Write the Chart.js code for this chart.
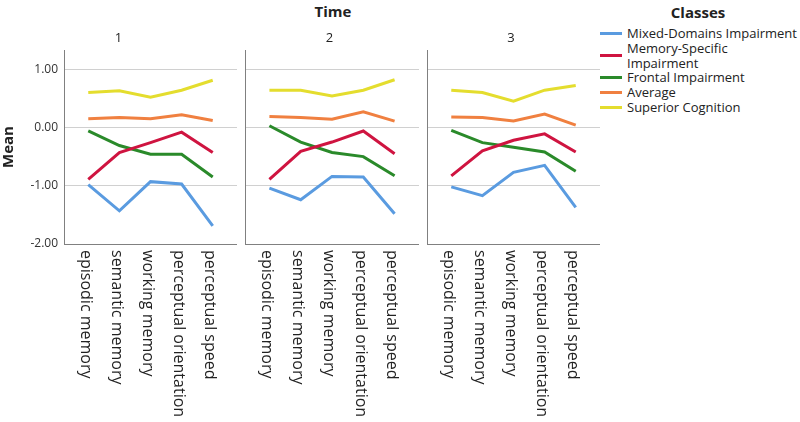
<!DOCTYPE html>
<html>
<head>
<meta charset="utf-8">
<script src="https://cdn.jsdelivr.net/npm/chart.js@4.4.1/dist/chart.umd.min.js"></script>
<style>
    html, body { margin: 0; padding: 0; background: #fff; }
    #wrap { position: relative; width: 800px; height: 422px; overflow: hidden; font-family: 'Open Sans', sans-serif; color: #222; }
    .panel { position: absolute; top: 0; height: 422px; }
    #timeTitle { position: absolute; left: 283px; width: 100px; top: 1px; text-align: center; font-weight: bold; font-size: 15px; line-height: 20px; }
    #legend { position: absolute; left: 600px; top: 0; width: 200px; }
    .legend-title { position: absolute; left: 48px; width: 100px; top: 2px; text-align: center; font-weight: bold; font-size: 15px; line-height: 20px; }
    #legendItems { position: absolute; left: 0; top: 26px; width: 200px; }
    .legend-item { display: flex; align-items: center; font-size: 13px; line-height: 14.8px; }
    .legend-swatch { width: 22px; height: 3px; margin-right: 5px; flex: none; }
</style>
</head>
<body>
<div id="wrap">
    <div id="timeTitle">Time</div>
    <div class="panel" id="panel1"><canvas id="chart1"></canvas></div>
    <div class="panel" id="panel2"><canvas id="chart2"></canvas></div>
    <div class="panel" id="panel3"><canvas id="chart3"></canvas></div>
    <div id="legend">
        <div class="legend-title">Classes</div>
        <div id="legendItems"></div>
    </div>
</div>
<script>
// ---- Data ----
const DOMAINS = ['episodic memory', 'semantic memory', 'working memory', 'perceptual orientation', 'perceptual speed'];
const TIMES = ['1', '2', '3'];
const CLASSES = ['Mixed-Domains Impairment', 'Memory-Specific Impairment', 'Frontal Impairment', 'Average', 'Superior Cognition'];
const Y_TICKS = [-2, -1, 0, 1];

// mean per domain, one row per time point
const MIXED_DOMAINS = [
    [-0.98, -1.43, -0.93, -0.97, -1.69],
    [-1.04, -1.24, -0.84, -0.85, -1.48],
    [-1.02, -1.17, -0.77, -0.65, -1.37]
];
const MEMORY_SPECIFIC = [
    [-0.89, -0.43, -0.26, -0.08, -0.43],
    [-0.89, -0.41, -0.25, -0.06, -0.45],
    [-0.83, -0.40, -0.22, -0.11, -0.42]
];
const FRONTAL = [
    [-0.06, -0.31, -0.46, -0.46, -0.85],
    [0.03, -0.25, -0.43, -0.50, -0.83],
    [-0.05, -0.26, -0.34, -0.42, -0.75]
];
const AVERAGE = [
    [0.15, 0.17, 0.15, 0.22, 0.12],
    [0.19, 0.17, 0.14, 0.27, 0.11],
    [0.18, 0.17, 0.11, 0.23, 0.04]
];
const SUPERIOR = [
    [0.60, 0.63, 0.52, 0.64, 0.81],
    [0.64, 0.64, 0.54, 0.64, 0.82],
    [0.64, 0.60, 0.45, 0.64, 0.72]
];

const SERIES = [MIXED_DOMAINS, MEMORY_SPECIFIC, FRONTAL, AVERAGE, SUPERIOR];
const CLASS_COLORS = ['#5a9be0', '#cf1440', '#2a8a2a', '#f08040', '#e4dd2e'];

// panel layout: canvas left edge, canvas width, y axis width
const PANELS = [
    { left: 0, width: 237, axisWidth: 64 },
    { left: 240, width: 179, axisWidth: 5 },
    { left: 422, width: 178, axisWidth: 5 }
];

const GRID_COLOR = '#d0d0d0';
const AXIS_COLOR = '#808080';
const TEXT_COLOR = '#222';

// --- vertical category labels (read top to bottom) ---
const verticalLabels = {
    id: 'verticalLabels',
    afterDraw(chart) {
        const { ctx, chartArea, scales } = chart;
        ctx.save();
        ctx.font = '16px "Open Sans"';
        ctx.fillStyle = TEXT_COLOR;
        ctx.textAlign = 'left';
        ctx.textBaseline = 'middle';
        DOMAINS.forEach((label, i) => {
            ctx.save();
            ctx.translate(scales.x.getPixelForValue(i) - 3, chartArea.bottom + 6);
            ctx.rotate(Math.PI / 2);
            ctx.fillText(label, 0, 0);
            ctx.restore();
        });
        ctx.restore();
    }
};

function buildPanel(t) {
    const panel = PANELS[t];
    const box = document.getElementById(`panel${t + 1}`);
    box.style.left = panel.left + 'px';
    box.style.width = panel.width + 'px';

    const canvas = document.getElementById(`chart${t + 1}`);
    canvas.width = panel.width;
    canvas.height = 422;

    const first = t === 0;

    return new Chart(canvas, {
        type: 'line',
        data: {
            datasets: CLASSES.map((name, c) => ({
                label: name,
                data: SERIES[c][t].map((v, i) => ({ x: i, y: v })),
                borderColor: CLASS_COLORS[c],
                backgroundColor: CLASS_COLORS[c],
                borderWidth: 3,
                pointRadius: 0,
                tension: 0,
                fill: false
            }))
        },
        options: {
            responsive: false,
            animation: false,
            layout: { padding: 0 },
            plugins: {
                legend: { display: false },
                tooltip: { enabled: false },
                title: {
                    display: true,
                    text: TIMES[t],
                    color: TEXT_COLOR,
                    font: { family: 'Open Sans', size: 13, weight: 'normal' },
                    padding: { top: 30, bottom: 4.4 }
                }
            },
            scales: {
                x: {
                    type: 'linear',
                    min: -0.78,
                    max: 4.78,
                    afterBuildTicks: (axis) => { axis.ticks = DOMAINS.map((_, i) => ({ value: i })); },
                    afterFit: (axis) => { axis.height = 178; },
                    ticks: { display: false },
                    grid: { display: false, drawTicks: false },
                    border: { display: true, color: AXIS_COLOR, width: 1 }
                },
                y: {
                    min: -2,
                    max: 1.33,
                    afterBuildTicks: (axis) => { axis.ticks = Y_TICKS.map(v => ({ value: v })); },
                    afterFit: (axis) => { axis.width = panel.axisWidth; },
                    ticks: {
                        display: first,
                        color: '#333',
                        padding: 6,
                        font: { family: 'Open Sans', size: 12 },
                        callback: (v) => v.toFixed(2)
                    },
                    title: {
                        display: first,
                        text: 'Mean',
                        color: TEXT_COLOR,
                        padding: 0,
                        font: { family: 'Open Sans', size: 15, weight: 'bold' }
                    },
                    grid: { color: GRID_COLOR, drawTicks: false },
                    border: { display: true, color: AXIS_COLOR, width: 1 }
                }
            }
        },
        plugins: [verticalLabels]
    });
}

function buildLegend() {
    const holder = document.getElementById('legendItems');
    CLASSES.forEach((name, c) => {
        const item = document.createElement('div');
        item.className = 'legend-item';
        const swatch = document.createElement('span');
        swatch.className = 'legend-swatch';
        swatch.style.background = CLASS_COLORS[c];
        const text = document.createElement('span');
        // the long label wraps after "Memory-Specific" in the original
        text.innerHTML = name.replace('Memory-Specific ', 'Memory-Specific<br>');
        item.appendChild(swatch);
        item.appendChild(text);
        holder.appendChild(item);
    });
}

TIMES.forEach((_, t) => buildPanel(t));
buildLegend();
</script>
</body>
</html>
